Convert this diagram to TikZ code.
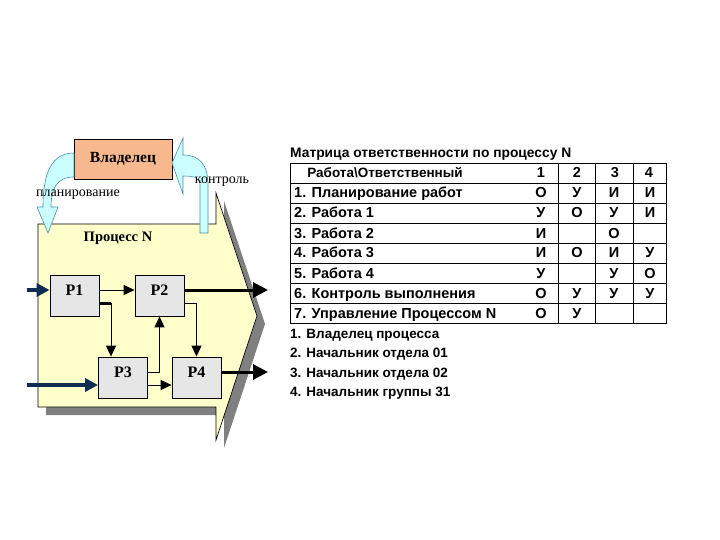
\documentclass[tikz,border=0pt]{standalone}
\usepackage{fontspec}
\setmainfont{Liberation Serif}
\newfontfamily\tabfont{Liberation Sans}
\usetikzlibrary{arrows.meta,calc}
\definecolor{procyellow}{RGB}{255,255,204}
\definecolor{shadowgray}{RGB}{128,128,128}
\definecolor{boxgray}{RGB}{230,230,230}
\definecolor{ownerfill}{RGB}{246,184,140}
\definecolor{bandfill}{RGB}{204,255,255}
\definecolor{bandline}{RGB}{70,140,170}
\definecolor{navy}{RGB}{15,45,80}
\begin{document}
\begin{tikzpicture}[x=1pt,y=-1pt,
  pbox/.style={draw=black, line width=0.8pt, fill=boxgray, minimum width=49pt, minimum height=41pt, inner sep=0pt, text height=10pt, text depth=10pt, font=\bfseries\fontsize{16}{16}\selectfont},
  ownerbox/.style={draw=black, line width=0.8pt, fill=ownerfill, minimum width=98pt, minimum height=40pt, inner sep=0pt, font=\bfseries\fontsize{15.5}{15.5}\selectfont},
  band/.style={fill=bandfill, draw=bandline, line width=0.6pt},
  flow/.style={-{Triangle[length=11pt,width=10pt]}, line width=1pt},
  outarrow/.style={-{Triangle[length=15pt,width=15pt]}, line width=3pt},
  inarrow/.style={draw=navy, -{Triangle[length=13pt,width=13pt]}, line width=3.5pt},
  smalllbl/.style={font=\fontsize{14}{14}\selectfont, inner sep=0pt},
  tabtxt/.style={font=\tabfont\bfseries\fontsize{13.5}{13.5}\selectfont, inner sep=0pt},
  rowtxt/.style={font=\tabfont\bfseries\fontsize{14.5}{14.5}\selectfont, inner sep=0pt},
  tabline/.style={draw=black, line width=0.9pt}]
\useasboundingbox (0,0) rectangle (720,540);

% process chevron with shadow
\fill[shadowgray] (46,232) -- (224,232) -- (224,201) -- (265,324) -- (224,448) -- (224,415) -- (46,415) -- cycle;
\filldraw[fill=procyellow, draw=black, line width=0.7pt] (38,224) -- (216,224) -- (216,193) -- (257,316) -- (216,440) -- (216,407) -- (38,407) -- cycle;
\node[font=\bfseries\fontsize{14.5}{14.5}\selectfont, inner sep=0pt] (proc) at (118,238) {Процесс N};

% owner
\node[ownerbox] (owner) at (123,159) {Владелец};

% planning band
\filldraw[band] (74,153) .. controls (52,153) and (43,172) .. (43,207) -- (37,207) -- (48,233) -- (58,207) -- (51,207) .. controls (51,190) and (56,177) .. (74,177) -- cycle;
% control band
\filldraw[band] (200,233) -- (200,185) .. controls (200,178) and (195,176) .. (183,176) -- (183,194) -- (172,163) -- (183,138) -- (183,155) .. controls (200,155) and (208,165) .. (208,185) -- (208,233) -- cycle;
\node[smalllbl] (plan) at (78,195) {планирование};
\node[smalllbl] (ctrl) at (222,182) {контроль};

% process boxes
\node[pbox] (P1) at (74.5,295.5) {Р1\hspace{9pt}};
\node[pbox] (P2) at (159.5,295.5) {Р2\hspace{9pt}};
\node[pbox] (P3) at (123,377.5) {Р3\hspace{9pt}};
\node[pbox] (P4) at (196.5,377.5) {Р4\hspace{9pt}};

% inputs / outputs
\coordinate (in1) at (27,290);
\coordinate (in2) at (27,385);
\coordinate (out1) at (268,290);
\coordinate (out2) at (268,372);
\draw[inarrow] (in1) -- (in1 -| P1.west);
\draw[inarrow] (in2) -- (in2 -| P3.west);
\draw[outarrow] ($(P2.east)+(0,-5.5)$) -- (out1);
\draw[outarrow] ($(P4.east)+(0,-5.5)$) -- (out2);

% internal flows
\draw[flow] ($(P1.east)+(0,-5.5)$) -- ($(P2.west)+(0,-5.5)$);
\draw[line width=2.2pt] ($(P1.east)+(0,8)$) -- ++(12,0);
\draw[flow] ($(P1.east)+(0,8)$) -| ($(P3.north)+(-12,0)$);
\draw[flow] ($(P3.east)+(0,-5.5)$) -| (P2.south);
\draw[flow] ($(P3.east)+(0,7.5)$) -- ($(P4.west)+(0,7.5)$);
\draw[flow] ($(P2.east)+(0,8)$) -| (P4.north);

% responsibility matrix
\node[tabtxt, anchor=base west, font=\tabfont\bfseries\fontsize{13.8}{13.8}\selectfont] (title) at (290,158) {Матрица ответственности по процессу N};
\draw[tabline] (290,163) rectangle (666,323);
\foreach \yy in {183,203,...,303} { \draw[tabline] (290,\yy) -- (666,\yy); }
\foreach \xx in {558,595,633} { \draw[tabline] (\xx,163) -- (\xx,323); }
\node[tabtxt, anchor=base] (h0) at (385,178) {Работа\textbackslash Ответственный};
\node[rowtxt, anchor=base] (h1) at (541,178) {1};
\node[rowtxt, anchor=base] (h2) at (577,178) {2};
\node[rowtxt, anchor=base] (h3) at (615,178) {3};
\node[rowtxt, anchor=base] (h4) at (649,178) {4};
\foreach \lab/\a/\b/\c/\d [count=\i] in {
  {1. Планирование работ}/О/У/И/И,
  {2. Работа 1}/У/О/У/И,
  {3. Работа 2}/И/{}/О/{},
  {4. Работа 3}/И/О/И/У,
  {5. Работа 4}/У/{}/У/О,
  {6. Контроль выполнения}/О/У/У/У,
  {7. Управление Процессом N}/О/У/{}/{}} {
  \node[rowtxt, anchor=base west] (r\i-0) at (294,178+20*\i) {\lab};
  \node[rowtxt, anchor=base] (r\i-1) at (541,178+20*\i) {\a};
  \node[rowtxt, anchor=base] (r\i-2) at (577,178+20*\i) {\b};
  \node[rowtxt, anchor=base] (r\i-3) at (614,178+20*\i) {\c};
  \node[rowtxt, anchor=base] (r\i-4) at (650,178+20*\i) {\d};
}
\node[tabtxt, anchor=base west] (l1) at (290,338) {1. Владелец процесса};
\node[tabtxt, anchor=base west] (l2) at (290,357.5) {2. Начальник отдела 01};
\node[tabtxt, anchor=base west] (l3) at (290,377) {3. Начальник отдела 02};
\node[tabtxt, anchor=base west] (l4) at (290,396.5) {4. Начальник группы 31};
\end{tikzpicture}
\end{document}
